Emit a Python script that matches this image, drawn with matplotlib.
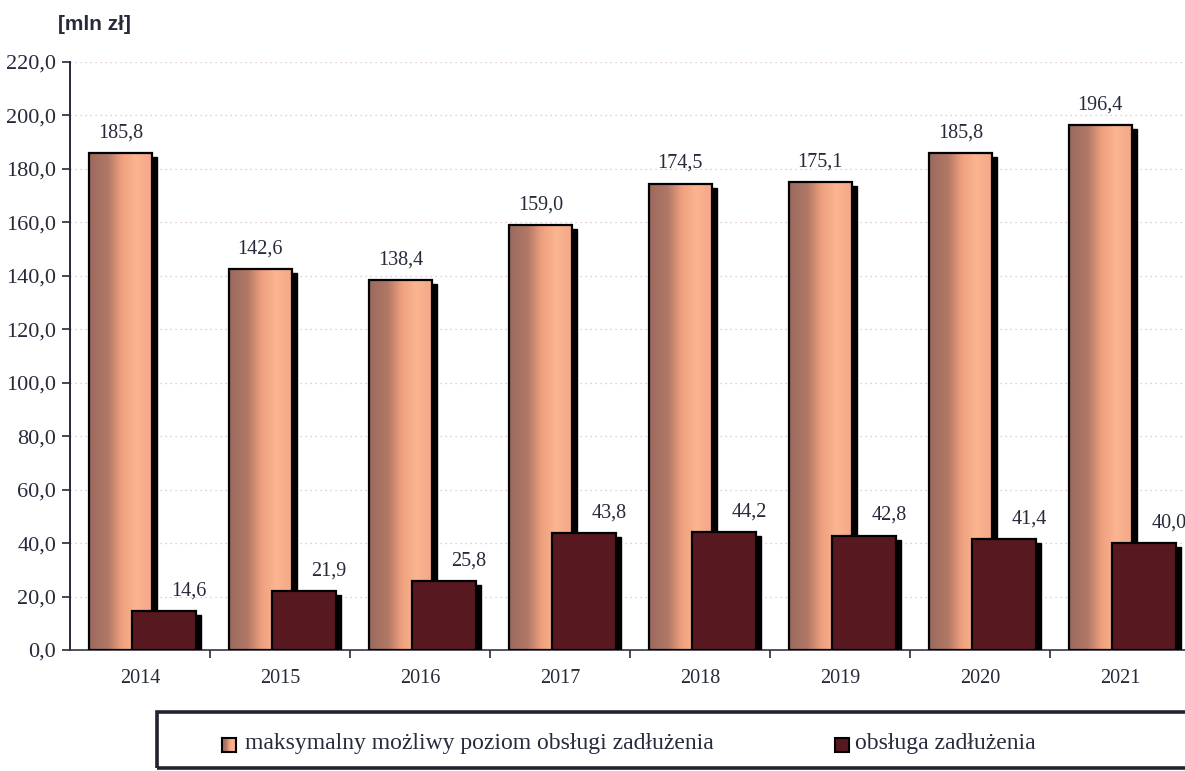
import matplotlib
matplotlib.use('Agg')
import matplotlib.pyplot as plt
import numpy as np
from matplotlib.patches import Rectangle
from matplotlib.colors import LinearSegmentedColormap
from matplotlib.ticker import FuncFormatter

plt.rcParams['font.family'] = ['Liberation Serif', 'DejaVu Serif']

# dane
lata = ['2014', '2015', '2016', '2017', '2018', '2019', '2020', '2021']
maks_poziom = [185.8, 142.6, 138.4, 159.0, 174.5, 175.1, 185.8, 196.4]
obsluga = [14.6, 21.9, 25.8, 43.8, 44.2, 42.8, 41.4, 40.0]
seria_nazwy = ['maksymalny możliwy poziom obsługi zadłużenia', 'obsługa zadłużenia']

txt_kolor = '#262a3a'
ciemny = '#581820'
grad = LinearSegmentedColormap.from_list('pom', [
    (0.0, '#9a6a5e'), (0.3, '#b27866'), (0.52, '#efa07e'),
    (0.75, '#fbb590'), (1.0, '#f4a888')])
grad_img = grad(np.linspace(0, 1, 64))[None, :, :3]

def fmt(v):
    return f'{v:.1f}'.replace('.', ',')

fig = plt.figure(figsize=(11.85, 7.71), dpi=100)
ax = fig.add_axes([70 / 1185, 1 - 650 / 771, 1120 / 1185, 588 / 771])

x = np.arange(len(lata))
w1, off1 = 0.45, -0.14
w2, off2 = 0.46, 0.17
cien = 0.035

# siatka
for v in range(20, 221, 20):
    ax.axhline(v, color='#d9bcd2', lw=0.9, ls=(0, (1, 3)), zorder=0)

# slupki pomaranczowe z gradientem
for i, h in enumerate(maks_poziom):
    x0 = x[i] + off1 - w1 / 2
    ax.add_patch(Rectangle((x0 + cien, -0.5), w1, h - 1.0, color='black', zorder=1))
    ax.imshow(grad_img, extent=[x0, x0 + w1, 0, h], aspect='auto', zorder=2,
              interpolation='bilinear')
    ax.add_patch(Rectangle((x0, 0), w1, h, fill=False, ec='black', lw=1.6, zorder=3))
    ax.text(x[i] + off1, h + 4, fmt(h), ha='center', va='bottom',
            fontsize=14.5, color=txt_kolor)

# slupki ciemne
for i, h in enumerate(obsluga):
    x0 = x[i] + off2 - w2 / 2
    ax.add_patch(Rectangle((x0 + cien, -0.5), w2, h - 1.0, color='black', zorder=4))
    ax.add_patch(Rectangle((x0, 0), w2, h, fc=ciemny, ec='black', lw=1.6, zorder=5))
    ax.text(x[i] + off2 + 0.18, h + 4, fmt(h), ha='center', va='bottom',
            fontsize=14.5, color=txt_kolor, zorder=6)

ax.set_xlim(-0.5, len(lata) - 0.5)
ax.set_ylim(0, 220)
ax.set_yticks(range(0, 221, 20))
ax.yaxis.set_major_formatter(FuncFormatter(lambda v, p: fmt(v)))
ax.set_xticks(x)
ax.set_xticklabels(lata)
ax.set_xticks(x[:-1] + 0.5, minor=True)
ax.tick_params(axis='x', which='major', length=0, pad=14, labelsize=14.5, labelcolor=txt_kolor)
ax.tick_params(axis='x', which='minor', length=6, color=txt_kolor, width=1.2)
ax.tick_params(axis='y', length=6, width=1.2, color=txt_kolor, labelsize=16,
               labelcolor=txt_kolor, pad=4)
for s in ['top', 'right']:
    ax.spines[s].set_visible(False)
ax.spines['left'].set_color(txt_kolor)
ax.spines['left'].set_linewidth(1.4)
ax.spines['bottom'].set_color('#333344')
ax.spines['bottom'].set_linewidth(1.2)

fig.text(58 / 1185, 1 - 25 / 771, '[mln zł]', family=['Liberation Sans', 'DejaVu Sans'],
         fontsize=15, fontweight='bold', color=txt_kolor, va='center', ha='left')

# legenda
fig.add_artist(Rectangle((157 / 1185, 1 - 768 / 771), 1040 / 1185, 56 / 771,
                         transform=fig.transFigure, fill=False, ec='#222230', lw=2.6))
iax = fig.add_axes([222 / 1185, 1 - 752 / 771, 14 / 1185, 14 / 771])
iax.imshow(grad_img, aspect='auto', interpolation='bilinear')
iax.set_xticks([])
iax.set_yticks([])
for s in iax.spines.values():
    s.set_color('black')
    s.set_linewidth(1.5)
fig.add_artist(Rectangle((835 / 1185, 1 - 752 / 771), 14 / 1185, 14 / 771,
                         transform=fig.transFigure, fc=ciemny, ec='black', lw=1.5))
fig.text(245 / 1185, 1 - 744 / 771, seria_nazwy[0], fontsize=17, color=txt_kolor,
         va='center', ha='left')
fig.text(855 / 1185, 1 - 744 / 771, seria_nazwy[1], fontsize=17, color=txt_kolor,
         va='center', ha='left')

fig.savefig('out.png', dpi=100)
